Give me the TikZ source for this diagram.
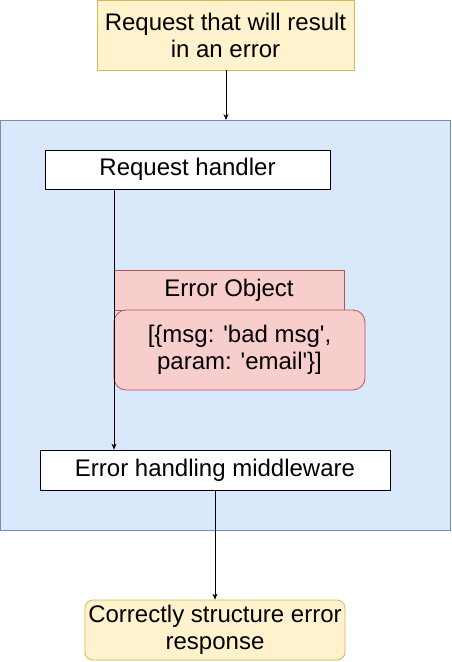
\documentclass[tikz,border=0pt]{standalone}
\usepackage{fontspec}
\setmainfont{Liberation Sans}[Ligatures=TeXOff]
\usetikzlibrary{arrows.meta}
\begin{document}
\begin{tikzpicture}[x=1pt,y=-1pt,
  every node/.style={font=\fontsize{24}{27}\selectfont, align=center, inner sep=0pt},
  yellowbox/.style={draw=yellowline, fill=yellowfill, line width=0.8pt},
  whitebox/.style={draw=black, fill=white, line width=0.8pt},
  redbox/.style={draw=redline, fill=redfill, line width=0.8pt},
  conn/.style={-{Stealth[length=6pt,width=5pt]}, line width=0.8pt}]
\definecolor{yellowfill}{HTML}{FFF2CC}
\definecolor{yellowline}{HTML}{D6B656}
\definecolor{bluefill}{HTML}{DAE8FC}
\definecolor{blueline}{HTML}{6C8EBF}
\definecolor{redfill}{HTML}{F8CECC}
\definecolor{redline}{HTML}{B85450}
\useasboundingbox (0,0) rectangle (451,662);
\draw[draw=blueline, fill=bluefill, line width=0.8pt] (0.5,120) rectangle (450.5,530);
\node[yellowbox, minimum width=257pt, minimum height=70pt] (req) at (225.5,35) {Request that will result\\in an error};
\node[whitebox, minimum width=285pt, minimum height=39pt] (rh) at (187.5,169.5) {Request handler};
\node[redbox, minimum width=230pt, minimum height=40pt] (eo) at (229,290) {Error Object};
\node[redbox, rounded corners=12pt, minimum width=251pt, minimum height=80pt] (msg) at (239.5,350) {[\{msg: 'bad msg',\\param: 'email'\}]};
\node[whitebox, minimum width=350pt, minimum height=40pt] (ehm) at (215,470) {Error handling middleware};
\node[yellowbox, rounded corners=8pt, minimum width=260pt, minimum height=60pt] (res) at (215,630) {Correctly structure error\\response};
\coordinate (top) at (226,120);
\draw[conn] (req.south -| top) -- (top);
\draw[conn] (rh.south -| 114,0) -- (ehm.north -| 114,0);
\draw[conn] (ehm.south) -- (res.north);
\end{tikzpicture}
\end{document}
